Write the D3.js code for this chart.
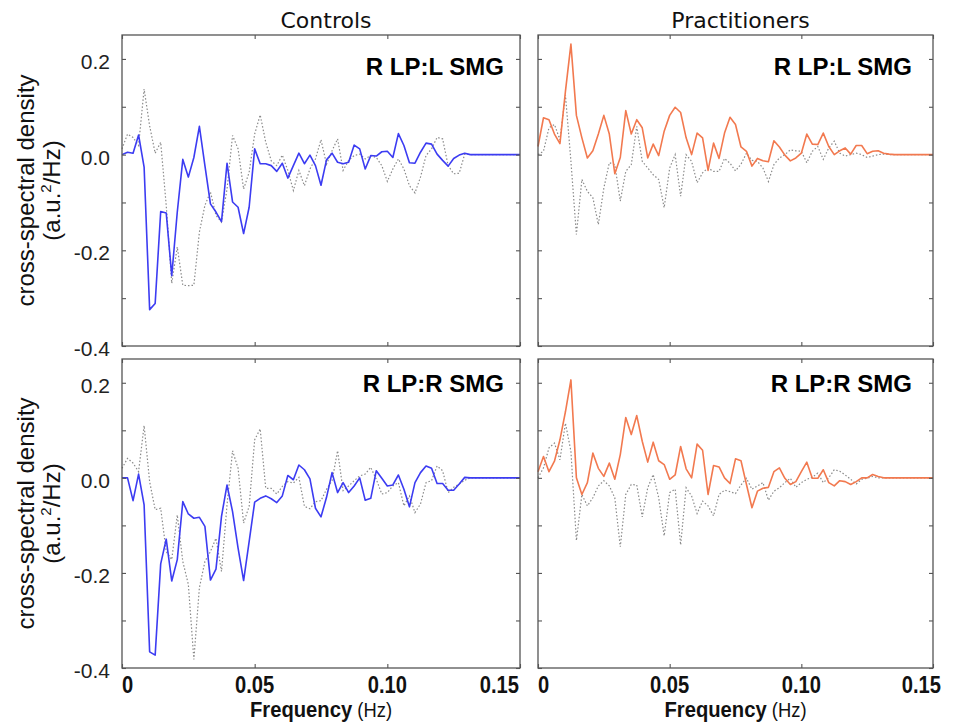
<!DOCTYPE html>
<html>
<head>
<meta charset="utf-8">
<script src="https://cdn.jsdelivr.net/npm/d3@7"></script>
<style>
html, body { margin: 0; padding: 0; background: #fff; }
svg { display: block; }
</style>
</head>
<body>
<svg id="chart" width="958" height="722"></svg>
<script>
'use strict';

// frequency grid: 1/480 Hz bins, 0 .. 0.15 Hz
var FREQ = d3.range(73).map(function(i) { return i / 480; });

var COLUMN_TITLES = ['Controls', 'Practitioners'];
var ROW_LABELS = ['R LP:L SMG', 'R LP:R SMG'];
var Y_TICKS = [-0.4, -0.3, -0.2, -0.1, 0, 0.1, 0.2];
var X_TICKS = [0, 0.05, 0.10, 0.15];
var X_TICK_LABELS = ['0', '0.05', '0.10', '0.15'];

// controls, R LP : L SMG
var ctlL = [
  0.0, 0.005, 0.003, 0.041, -0.026, -0.324, -0.311, -0.119, -0.122, -0.253,
  -0.12, -0.010, -0.047, -0.006, 0.059, -0.023, -0.103, -0.12, -0.14, -0.018,
  -0.099, -0.11, -0.165, -0.11, 0.012, -0.019, -0.019, -0.023, -0.035, -0.018,
  -0.049, -0.023, 0.003, -0.019, -0.001, -0.023, -0.064, -0.011, 0.003, -0.016,
  -0.019, -0.016, 0.020, 0.012, -0.030, -0.002, -0.003, 0.006, 0.007, -0.006,
  0.044, 0.019, -0.017, -0.018, 0.005, 0.024, 0.022, 0.001, -0.012, -0.024,
  -0.008, -0.001, 0.003, 0, 0, 0, 0, 0, 0, 0, 0, 0, 0
];
var ctlLRef = [
  0.012, 0.043, 0.036, 0.019, 0.137, 0.06, 0.003, 0.026, -0.106, -0.269,
  -0.193, -0.273, -0.274, -0.273, -0.162, -0.106, -0.078, -0.127, -0.141, -0.072,
  0.040, 0.012, -0.072, -0.037, 0.043, 0.083, 0.026, -0.013, -0.023, -0.001,
  -0.033, -0.075, -0.033, -0.065, -0.030, -0.009, 0.031, -0.02, 0.008, 0.033,
  -0.033, -0.012, -0.002, 0.001, -0.009, -0.002, -0.006, -0.023, -0.056, -0.030,
  -0.009, -0.030, -0.065, -0.080, -0.047, -0.002, 0.012, 0.036, 0.033, -0.023,
  -0.040, -0.039, 0.001, 0, 0, 0, 0, 0, 0, 0, 0, 0, 0
];

// practitioners, R LP : L SMG
var pracL = [
  0.017, 0.077, 0.073, 0.043, 0.023, 0.132, 0.231, 0.082, 0.035, -0.007,
  0.008, 0.043, 0.082, 0.043, -0.040, -0.006, 0.092, 0.043, 0.073, 0.056,
  -0.007, 0.022, -0.002, 0.049, 0.082, 0.099, 0.088, 0.035, 0.0, 0.045,
  0.035, -0.033, 0.024, -0.008, 0.045, 0.078, 0.063, 0.016, 0.007, -0.024,
  -0.008, -0.013, -0.015, 0.029, 0.016, -0.001, -0.013, -0.007, 0.003, 0.043,
  0.022, 0.021, 0.045, 0.017, 0.0, 0.008, 0.014, 0.001, 0.019, 0.019,
  0.002, 0.007, 0.008, 0.003, 0.001, 0, 0, 0, 0, 0, 0, 0, 0
];
var pracLRef = [
  0.0, 0.007, 0.056, 0.063, 0.031, 0.125, -0.014, -0.167, -0.052, -0.077,
  -0.090, -0.146, -0.070, -0.017, -0.021, -0.097, -0.035, -0.021, 0.059, -0.014,
  -0.028, -0.042, -0.052, -0.111, -0.028, 0.0, -0.087, 0.0, -0.014, -0.059,
  -0.038, -0.028, -0.035, -0.035, -0.008, -0.018, -0.034, -0.020, 0.003, -0.012,
  -0.014, -0.028, -0.056, -0.021, -0.007, 0.0, 0.010, 0.008, 0.007, -0.017,
  0.007, 0.017, -0.010, 0.014, 0.028, 0.003, -0.003, 0.0, 0.003, 0.0,
  -0.006, -0.003, 0.0, 0.001, 0, 0, 0, 0, 0, 0, 0, 0, 0
];

// controls, R LP : R SMG
var ctlR = [
  0.0, 0.0, -0.048, 0.008, -0.057, -0.366, -0.373, -0.181, -0.129, -0.217,
  -0.172, -0.050, -0.076, -0.085, -0.083, -0.102, -0.215, -0.192, -0.081, -0.015,
  -0.071, -0.148, -0.216, -0.134, -0.051, -0.043, -0.038, -0.044, -0.052, -0.038,
  0.005, -0.004, 0.027, 0.017, -0.002, -0.064, -0.082, -0.041, 0.011, -0.031,
  -0.010, -0.031, -0.017, 0.0, -0.047, -0.043, 0.015, -0.001, -0.017, -0.015,
  0.006, -0.024, -0.061, -0.010, 0.011, 0.025, 0.020, -0.012, -0.012, -0.026,
  -0.026, -0.013, 0.001, 0, 0, 0, 0, 0, 0, 0, 0, 0, 0
];
var ctlRRef = [
  0.02, 0.041, 0.031, 0.013, 0.11, -0.008, -0.067, -0.064, -0.155, -0.172,
  -0.078, -0.176, -0.224, -0.382, -0.231, -0.176, -0.155, -0.127, -0.197, -0.057,
  0.057, 0.02, -0.095, -0.060, 0.08, 0.103, -0.022, -0.022, -0.034, -0.018,
  -0.008, -0.011, 0.001, -0.060, -0.065, -0.05, -0.048, -0.024, -0.006, 0.057,
  -0.027, -0.017, -0.006, 0.004, 0.008, 0.022, -0.003, -0.034, -0.031, -0.017,
  -0.010, -0.059, -0.038, -0.073, -0.055, -0.010, -0.006, 0.025, 0.015, -0.031,
  -0.020, -0.013, -0.005, 0, 0, 0, 0, 0, 0, 0, 0, 0, 0
];

// practitioners, R LP : R SMG
var pracR = [
  0.013, 0.045, 0.013, 0.035, 0.080, 0.139, 0.206, 0.0, -0.035, -0.010,
  0.052, 0.020, 0.003, 0.031, -0.003, 0.049, 0.127, 0.091, 0.131, 0.077,
  0.033, 0.075, 0.036, 0.028, -0.003, 0.006, 0.066, 0.019, 0.0, 0.071,
  0.058, -0.035, 0.026, 0.023, 0.0, -0.012, 0.040, 0.036, -0.014, -0.063,
  -0.028, -0.022, -0.020, 0.013, 0.021, -0.001, -0.014, -0.008, 0.013, 0.033,
  -0.001, -0.001, 0.017, -0.010, -0.017, -0.006, -0.008, -0.014, -0.008, 0.0,
  0.0, 0.007, 0.003, 0, 0, 0, 0, 0, 0, 0, 0, 0, 0
];
var pracRRef = [
  0.0, 0.021, 0.063, 0.073, 0.038, 0.115, 0.056, -0.132, -0.035, -0.059,
  -0.042, -0.017, -0.006, -0.017, -0.042, -0.145, -0.035, -0.014, -0.015, -0.082,
  -0.021, 0.007, -0.042, -0.122, -0.031, -0.024, -0.141, -0.021, -0.038, -0.075,
  -0.049, -0.059, -0.080, -0.035, -0.026, -0.029, -0.033, -0.015, -0.001, -0.024,
  -0.017, -0.010, -0.047, -0.028, -0.021, -0.010, -0.001, -0.020, -0.010, -0.003,
  0.001, 0.010, -0.010, 0.0, 0.017, 0.014, 0.006, -0.003, -0.013, -0.003,
  -0.001, 0.003, 0.0, 0, 0, 0, 0, 0, 0, 0, 0, 0, 0
];

//---------------------------------------------------------------------------

var BLUE = '#3c3cf2';
var ORANGE = '#f2794f';
var FRAME = '#555';

var colX = [[122, 520], [538, 933]];
var rowY = [[35, 346], [359, 668]];
var labelBaseline = [75, 392];

var panels = [
  {col: 0, row: 0, line: ctlL, ref: ctlLRef, color: BLUE},
  {col: 1, row: 0, line: pracL, ref: pracLRef, color: ORANGE},
  {col: 0, row: 1, line: ctlR, ref: ctlRRef, color: BLUE},
  {col: 1, row: 1, line: pracR, ref: pracRRef, color: ORANGE}
];

var svg = d3.select('#chart');

function drawPanel(p) {
  var x = d3.scaleLinear().domain([0, 0.15]).range(colX[p.col]);
  var y = d3.scaleLinear().domain([-0.4, 0.25]).range([rowY[p.row][1], rowY[p.row][0]]);
  var g = svg.append('g');

  var line = d3.line()
    .x(function(d, i) { return x(FREQ[i]); })
    .y(function(d) { return y(d); });

  g.append('path')
    .datum(p.ref)
    .attr('d', line)
    .attr('fill', 'none')
    .attr('stroke', '#8a8a8a')
    .attr('stroke-width', 1.2)
    .attr('stroke-dasharray', '1.5,2');

  g.append('path')
    .datum(p.line)
    .attr('d', line)
    .attr('fill', 'none')
    .attr('stroke', p.color)
    .attr('stroke-width', 1.6)
    .attr('stroke-linejoin', 'round');

  var left = d3.axisLeft(y).tickValues(Y_TICKS).tickSizeInner(-4).tickSizeOuter(0).tickPadding(12)
    .tickFormat(function(d) {
      if (p.col !== 0 || Math.round(d * 10) % 2 !== 0) return '';
      return d.toFixed(1);
    });
  var right = d3.axisRight(y).tickValues(Y_TICKS).tickSizeInner(-4).tickSizeOuter(0).tickFormat('');
  var top = d3.axisTop(x).tickValues(X_TICKS).tickSizeInner(-4).tickSizeOuter(0).tickFormat('');
  var bottom = d3.axisBottom(x).tickValues(X_TICKS).tickSizeInner(-4).tickSizeOuter(0).tickFormat('');

  var axes = [
    g.append('g').attr('transform', 'translate(' + colX[p.col][0] + ',0)').call(left),
    g.append('g').attr('transform', 'translate(' + colX[p.col][1] + ',0)').call(right),
    g.append('g').attr('transform', 'translate(0,' + rowY[p.row][0] + ')').call(top),
    g.append('g').attr('transform', 'translate(0,' + rowY[p.row][1] + ')').call(bottom)
  ];
  axes.forEach(function(a) {
    a.select('.domain').remove();
    a.selectAll('line').attr('stroke', FRAME).attr('stroke-width', 1.1);
    a.selectAll('text')
      .attr('font-family', '"Liberation Sans", Arial, sans-serif')
      .attr('font-size', 21)
      .attr('fill', '#222')
      .attr('dy', '0.45em');
  });

  g.append('rect')
    .attr('x', colX[p.col][0])
    .attr('y', rowY[p.row][0])
    .attr('width', colX[p.col][1] - colX[p.col][0])
    .attr('height', rowY[p.row][1] - rowY[p.row][0])
    .attr('fill', 'none')
    .attr('stroke', FRAME)
    .attr('stroke-width', 1.3);

  g.append('text')
    .attr('x', colX[p.col][1] - (p.col === 0 ? 16 : 21))
    .attr('y', labelBaseline[p.row])
    .attr('text-anchor', 'end')
    .attr('font-family', '"Liberation Sans", Arial, sans-serif')
    .attr('font-weight', 'bold')
    .attr('font-size', 24)
    .attr('fill', '#000')
    .text(ROW_LABELS[p.row]);

  // condensed bold frequency labels under the bottom row
  if (p.row === 1) {
    X_TICKS.forEach(function(t, i) {
      var anchor = 'middle';
      var px = x(t);
      if (i === 0) { anchor = 'start'; }
      if (i === X_TICKS.length - 1) { anchor = 'end'; px = px + (p.col === 0 ? -1 : 8); }
      svg.append('text')
        .attr('transform', 'translate(' + px + ',693) scale(0.84,1)')
        .attr('text-anchor', anchor)
        .attr('font-family', '"Liberation Sans", Arial, sans-serif')
        .attr('font-weight', 'bold')
        .attr('font-size', 24)
        .attr('fill', '#111')
        .text(X_TICK_LABELS[i]);
    });

    var cx = (colX[p.col][0] + colX[p.col][1]) / 2;
    var ft = svg.append('text')
      .attr('transform', 'translate(' + cx + ',717) scale(0.92,1)')
      .attr('text-anchor', 'middle')
      .attr('font-family', '"Liberation Sans", Arial, sans-serif')
      .attr('font-size', 22)
      .attr('fill', '#111');
    ft.append('tspan').attr('font-weight', 'bold').text('Frequency');
    ft.append('tspan').attr('font-size', 20).text(' (Hz)');
  }

  if (p.col === 0) {
    var cy = (rowY[p.row][0] + rowY[p.row][1]) / 2;
    var yl = svg.append('g')
      .attr('font-family', '"Liberation Sans", Arial, sans-serif')
      .attr('font-size', 24)
      .attr('fill', '#111')
      .attr('text-anchor', 'middle');
    yl.append('text')
      .attr('transform', 'translate(34,' + cy + ') rotate(-90)')
      .text('cross-spectral density');
    var unit = yl.append('text')
      .attr('transform', 'translate(60,' + cy + ') rotate(-90)');
    unit.append('tspan').text('(a.u.');
    unit.append('tspan').attr('font-size', 15).attr('dy', -9).text('2');
    unit.append('tspan').attr('dy', 9).text('/Hz)');
  }

  if (p.row === 0) {
    svg.append('text')
      .attr('x', (colX[p.col][0] + colX[p.col][1]) / 2 + 5)
      .attr('y', 28)
      .attr('text-anchor', 'middle')
      .attr('font-family', '"DejaVu Sans", sans-serif')
      .attr('font-size', 22)
      .attr('fill', '#111')
      .text(COLUMN_TITLES[p.col]);
  }
}

panels.forEach(drawPanel);
</script>
</body>
</html>
